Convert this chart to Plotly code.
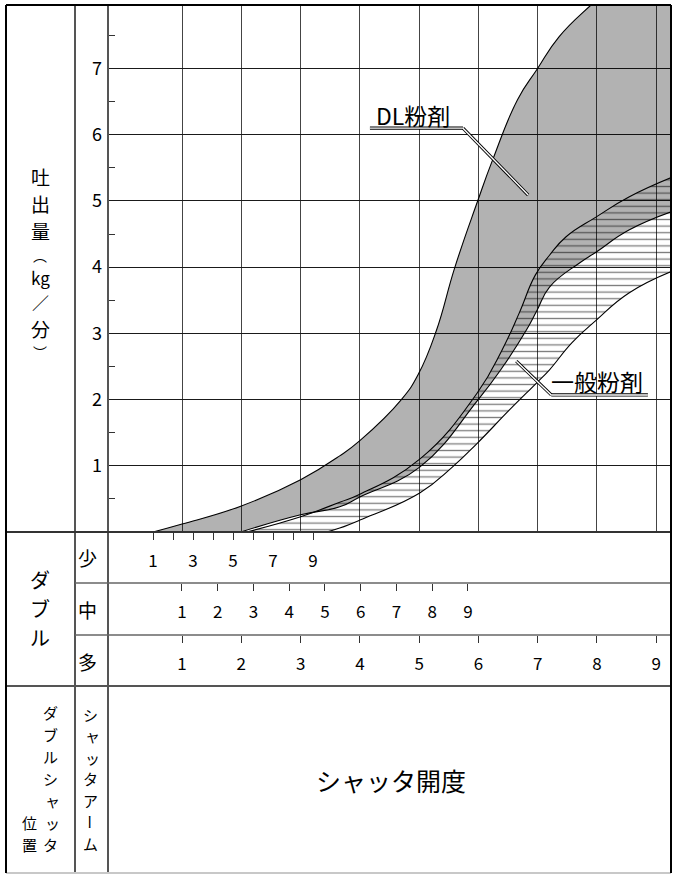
import plotly.graph_objects as go

W, H = 677, 874
FONT = "Noto Sans CJK JP"

# ---------------- data (x: shutter opening in 多-scale units, y: kg/min) ----------------
dl_upper_x = [0.51, 1.00, 1.99, 3.00, 3.66, 4.00, 4.70, 4.99, 5.29, 5.60, 5.98, 6.24, 6.66, 6.99, 7.36, 7.90, 8.40, 9.30]
dl_upper_y = [0.00, 0.12, 0.39, 0.79, 1.15, 1.38, 2.00, 2.39, 3.04, 3.99, 4.98, 5.62, 6.53, 6.99, 7.48, 7.96, 8.35, 8.90]

dl_lower_x = [1.99, 3.00, 3.66, 4.00, 5.01, 5.98, 6.40, 6.81, 6.99, 7.20, 7.70, 7.99, 8.54, 9.30]
dl_lower_y = [0.00, 0.26, 0.38, 0.53, 0.98, 1.98, 2.48, 3.05, 3.35, 3.70, 4.06, 4.23, 4.56, 4.85]

gen_upper_x = [2.09, 3.00, 3.66, 4.00, 5.01, 5.98, 6.40, 6.69, 6.96, 7.20, 7.48, 7.99, 8.54, 9.30]
gen_upper_y = [0.00, 0.23, 0.45, 0.57, 1.10, 2.10, 2.75, 3.31, 3.88, 4.18, 4.46, 4.76, 5.06, 5.37]

gen_lower_x = [3.44, 3.66, 4.00, 5.01, 5.56, 5.98, 6.52, 6.98, 7.20, 7.58, 7.99, 8.54, 9.30]
gen_lower_y = [0.00, 0.06, 0.18, 0.59, 0.98, 1.34, 1.84, 2.25, 2.45, 2.86, 3.20, 3.61, 3.95]

y_tick_vals = [1, 2, 3, 4, 5, 6, 7]
y_tick_text = ["1", "2", "3", "4", "5", "6", "7"]
y_minor_vals = [0.5, 1.5, 2.5, 3.5, 4.5, 5.5, 6.5, 7.5]

shou_vals = [1, 2, 3, 4, 5, 6, 7, 8, 9]
shou_text = ["1", "", "3", "", "5", "", "7", "", "9"]
chu_vals = [1, 2, 3, 4, 5, 6, 7, 8, 9]
chu_text = ["1", "2", "3", "4", "5", "6", "7", "8", "9"]
ta_vals = [1, 2, 3, 4, 5, 6, 7, 8, 9]
ta_text = ["1", "2", "3", "4", "5", "6", "7", "8", "9"]

row_labels = ["少", "中", "多"]
y_title_chars = ["吐", "出", "量", "︵", "kg", "／", "分", "︶"]
double_chars = ["ダ", "ブ", "ル"]
pos_col_right = ["ダ", "ブ", "ル", "シ", "ャ", "ッ", "タ"]
pos_col_left = ["位", "置"]
arm_chars = ["シ", "ャ", "ッ", "タ", "ア", "ー", "ム"]
x_title = "シャッタ開度"
label_dl = "DL粉剤"
label_gen = "一般粉剤"

# ---------------- layout geometry (pixels) ----------------
def px(x):
    return x / W

def py(y):
    return 1 - y / H

L_OUT, R_OUT, T_OUT, B_OUT = 6, 671, 5, 873
COL1, COL2 = 75, 108
PLOT_B = 532
ROW_LINES = [583, 635, 686]

fig = go.Figure()

line_style = dict(color="black", width=1.1, shape="spline", smoothing=1.3)
fig.add_trace(go.Scatter(x=dl_lower_x, y=dl_lower_y, mode="lines", line=line_style, hoverinfo="skip"))
fig.add_trace(go.Scatter(x=dl_upper_x, y=dl_upper_y, mode="lines", line=line_style,
                         fill="tonexty", fillcolor="rgba(0,0,0,0.30)", hoverinfo="skip"))
fig.add_trace(go.Scatter(x=gen_lower_x, y=gen_lower_y, mode="lines", line=line_style, hoverinfo="skip"))
fig.add_trace(go.Scatter(x=gen_upper_x, y=gen_upper_y, mode="lines", line=line_style,
                         fill="tonexty", fillcolor="rgba(0,0,0,0)",
                         fillpattern=dict(shape="-", fgcolor="black", bgcolor="rgba(0,0,0,0)",
                                          size=6.6, solidity=0.2),
                         hoverinfo="skip"))
# dummy traces so the scale axes of the table rows are drawn
for ax in ["x2", "x3", "x4"]:
    fig.add_trace(go.Scatter(x=[None], y=[None], xaxis=ax, yaxis="y", mode="lines",
                             hoverinfo="skip", showlegend=False))

dom_x = [px(COL2), px(R_OUT)]
dom_y = [py(PLOT_B), py(T_OUT)]

tick_font = dict(family=FONT, size=17, color="black")
row_axis = dict(overlaying="x", anchor="free", side="bottom", showgrid=False, zeroline=False,
                showline=False, ticks="outside", ticklen=7, tickwidth=1, tickcolor="#333",
                tickfont=tick_font, ticklabelstandoff=7, tickmode="array", fixedrange=True)

fig.update_layout(
    width=W, height=H,
    margin=dict(l=0, r=0, t=0, b=0),
    paper_bgcolor="white", plot_bgcolor="rgba(0,0,0,0)",
    showlegend=False,
    xaxis=dict(domain=dom_x, range=[-0.25, 9.25], tickmode="array", tickvals=ta_vals,
               showticklabels=False, ticks="", showgrid=True, gridcolor="#444", gridwidth=1.3,
               zeroline=False, showline=False, fixedrange=True),
    yaxis=dict(domain=dom_y, range=[0, 7.96], tickmode="array", tickvals=y_tick_vals,
               ticktext=y_tick_text, ticks="", showgrid=True, gridcolor="#1a1a1a", gridwidth=1,
               zeroline=False, showline=False, tickfont=dict(family=FONT, size=18, color="black"),
               ticklabelstandoff=5,
               minor=dict(tickmode="array", tickvals=y_minor_vals, ticks="inside", ticklen=7,
                          tickwidth=1, tickcolor="#333", showgrid=False),
               fixedrange=True),
    xaxis2=dict(row_axis, position=py(PLOT_B), range=[-1.25, 26.9], tickvals=shou_vals, ticktext=shou_text),
    xaxis3=dict(row_axis, position=py(ROW_LINES[0]), range=[-1.07, 14.68], tickvals=chu_vals, ticktext=chu_text),
    xaxis4=dict(row_axis, position=py(ROW_LINES[1]), range=[-0.25, 9.25], tickvals=ta_vals, ticktext=ta_text),
)

shapes = []

def pline(x0, y0, x1, y1, color, width):
    shapes.append(dict(type="line", xref="paper", yref="paper", x0=px(x0), y0=py(y0),
                       x1=px(x1), y1=py(y1), line=dict(color=color, width=width), layer="above"))

# table frame
pline(COL1, T_OUT, COL1, B_OUT, "#555", 2)
pline(COL2, T_OUT, COL2, B_OUT, "#555", 2)
pline(L_OUT, PLOT_B, R_OUT, PLOT_B, "#333", 2)
pline(COL1, ROW_LINES[0], R_OUT, ROW_LINES[0], "#666", 1.6)
pline(COL1, ROW_LINES[1], R_OUT, ROW_LINES[1], "#666", 1.6)
pline(L_OUT, ROW_LINES[2], R_OUT, ROW_LINES[2], "#555", 2)
pline(L_OUT, B_OUT, R_OUT, B_OUT, "#c8c8c8", 2)
pline(L_OUT, T_OUT, R_OUT, T_OUT, "black", 2)
pline(L_OUT, T_OUT, L_OUT, B_OUT, "black", 2)
pline(R_OUT, T_OUT, R_OUT, B_OUT, "black", 2)

# leader lines (data coordinates)
def leader(points):
    for color, width in (("black", 3.2), ("white", 1.4)):
        for (xa, ya), (xb, yb) in zip(points[:-1], points[1:]):
            shapes.append(dict(type="line", xref="x", yref="y", x0=xa, y0=ya, x1=xb, y1=yb,
                               line=dict(color=color, width=width), layer="above"))

leader([(4.17, 6.10), (5.74, 6.10), (6.84, 5.09)])
leader([(8.86, 2.07), (7.23, 2.07), (6.64, 2.58)])

fig.update_layout(shapes=shapes)

ann = []

def ptext(text, x, y, size, angle=0):
    ann.append(dict(text=text, xref="paper", yref="paper", x=px(x), y=py(y), showarrow=False,
                    xanchor="center", yanchor="middle", textangle=angle,
                    font=dict(family=FONT, size=size, color="black")))

# y-axis title (vertical, one glyph per line)
y_title_pos = [176, 203.5, 231, 255, 277.5, 302, 328, 352]
y_title_size = [19, 19, 19, 14, 17, 17, 19, 14]
for ch, yy, sz in zip(y_title_chars, y_title_pos, y_title_size):
    ptext(ch, 40, yy, sz)

# row labels
for ch, yy in zip(row_labels, [557, 609, 661]):
    ptext(ch, 88, yy, 19)
for ch, yy in zip(double_chars, [579, 608, 637]):
    ptext(ch, 40, yy, 20)

# bottom-left vertical labels
col_pos = [712, 734, 756, 778, 800, 822, 844]
for ch, yy in zip(pos_col_right, col_pos):
    ptext(ch, 52 if ch in ("ャ", "ッ") else 50, yy, 15)
for ch, yy in zip(pos_col_left, col_pos[-2:]):
    ptext(ch, 29, yy, 15)
arm_pos = [714, 735.5, 757, 778.5, 800, 821.5, 843]
for ch, yy in zip(arm_chars, arm_pos):
    ptext(ch, 92 if ch in ("ャ", "ッ") else 90, yy, 15, 90 if ch == "ー" else 0)

ptext(x_title, 391, 780, 25)

# band labels (data coordinates)
ann.append(dict(text=label_dl, xref="x", yref="y", x=4.90, y=6.30, showarrow=False,
                xanchor="center", yanchor="middle", font=dict(family=FONT, size=23, color="black")))
ann.append(dict(text=label_gen, xref="x", yref="y", x=8.00, y=2.28, showarrow=False,
                xanchor="center", yanchor="middle", font=dict(family=FONT, size=23, color="black")))

fig.update_layout(annotations=ann)

fig.write_html(
    "out.html",
    config={"displayModeBar": False},
    post_script="document.body.style.margin='0px';document.body.style.padding='0px';"
                "document.body.style.overflow='hidden';",
)
